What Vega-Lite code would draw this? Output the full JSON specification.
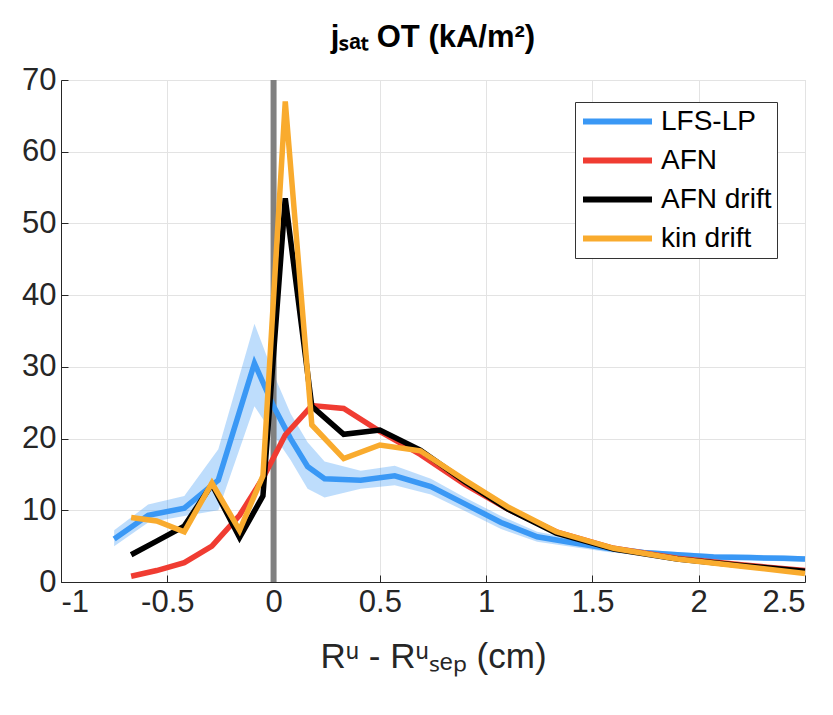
{
  "$schema": "https://vega.github.io/schema/vega-lite/v6.json",
  "width": 744,
  "height": 502,
  "autosize": {"type": "none"},
  "padding": {"left": 61, "top": 80, "right": 28, "bottom": 133},
  "background": "white",
  "title": {
    "text": "jₛₐₜ OT (kA/m²)",
    "font": "Liberation Sans",
    "fontSize": 31,
    "fontWeight": "bold",
    "color": "#000000",
    "anchor": "middle",
    "offset": 10
  },
  "config": {
    "view": {"stroke": "#d6d6d6", "strokeWidth": 1},
    "axis": {
      "labelFont": "Liberation Sans",
      "titleFont": "Liberation Sans",
      "labelColor": "#262626",
      "titleColor": "#262626",
      "domainColor": "#262626",
      "tickColor": "#262626",
      "gridColor": "#e3e3e3",
      "gridWidth": 1,
      "tickSize": -7,
      "labelFontSize": 31,
      "titleFontSize": 35,
      "titleFontWeight": "normal"
    },
    "legend": {
      "labelFont": "Liberation Sans"
    }
  },
  "datasets": {
    "lp": [
      {"x": -0.75, "y": 6.0, "lo": 5.0, "hi": 7.2},
      {"x": -0.59, "y": 9.3, "lo": 8.3, "hi": 10.8},
      {"x": -0.42, "y": 10.3, "lo": 9.2, "hi": 12.0},
      {"x": -0.26, "y": 14.2, "lo": 10.0, "hi": 18.5},
      {"x": -0.09, "y": 30.5, "lo": 24.5, "hi": 36.0},
      {"x": 0.0, "y": 24.5, "lo": 20.5, "hi": 29.0},
      {"x": 0.08, "y": 20.0, "lo": 17.0, "hi": 23.5},
      {"x": 0.16, "y": 16.1, "lo": 13.0, "hi": 19.5},
      {"x": 0.24, "y": 14.4, "lo": 11.8, "hi": 16.8},
      {"x": 0.41, "y": 14.2, "lo": 13.0, "hi": 15.5},
      {"x": 0.57, "y": 14.8, "lo": 13.5, "hi": 16.2},
      {"x": 0.74, "y": 13.3, "lo": 12.2, "hi": 14.4},
      {"x": 0.9, "y": 10.9, "lo": 9.9, "hi": 11.8},
      {"x": 1.07, "y": 8.3, "lo": 7.4, "hi": 9.2},
      {"x": 1.24, "y": 6.3, "lo": 5.6, "hi": 7.0},
      {"x": 1.4, "y": 5.5, "lo": 4.9, "hi": 6.1},
      {"x": 1.57, "y": 4.7, "lo": 4.2, "hi": 5.2},
      {"x": 1.74, "y": 4.1, "lo": 3.7, "hi": 4.5},
      {"x": 1.9, "y": 3.8, "lo": 3.4, "hi": 4.2},
      {"x": 2.07, "y": 3.5, "lo": 3.1, "hi": 3.9},
      {"x": 2.24, "y": 3.4, "lo": 3.0, "hi": 3.8},
      {"x": 2.4, "y": 3.3, "lo": 2.9, "hi": 3.7},
      {"x": 2.5, "y": 3.2, "lo": 2.8, "hi": 3.6}
    ],
    "lines": [
      {"s": "LFS-LP", "x": -0.75, "y": 6.0},
      {"s": "LFS-LP", "x": -0.59, "y": 9.3},
      {"s": "LFS-LP", "x": -0.42, "y": 10.3},
      {"s": "LFS-LP", "x": -0.26, "y": 14.2},
      {"s": "LFS-LP", "x": -0.09, "y": 30.5},
      {"s": "LFS-LP", "x": 0.0, "y": 24.5},
      {"s": "LFS-LP", "x": 0.08, "y": 20.0},
      {"s": "LFS-LP", "x": 0.16, "y": 16.1},
      {"s": "LFS-LP", "x": 0.24, "y": 14.4},
      {"s": "LFS-LP", "x": 0.41, "y": 14.2},
      {"s": "LFS-LP", "x": 0.57, "y": 14.8},
      {"s": "LFS-LP", "x": 0.74, "y": 13.3},
      {"s": "LFS-LP", "x": 0.9, "y": 10.9},
      {"s": "LFS-LP", "x": 1.07, "y": 8.3},
      {"s": "LFS-LP", "x": 1.24, "y": 6.3},
      {"s": "LFS-LP", "x": 1.4, "y": 5.5},
      {"s": "LFS-LP", "x": 1.57, "y": 4.7},
      {"s": "LFS-LP", "x": 1.74, "y": 4.1},
      {"s": "LFS-LP", "x": 1.9, "y": 3.8},
      {"s": "LFS-LP", "x": 2.07, "y": 3.5},
      {"s": "LFS-LP", "x": 2.24, "y": 3.4},
      {"s": "LFS-LP", "x": 2.4, "y": 3.3},
      {"s": "LFS-LP", "x": 2.5, "y": 3.2},

      {"s": "AFN", "x": -0.67, "y": 0.8},
      {"s": "AFN", "x": -0.55, "y": 1.6},
      {"s": "AFN", "x": -0.42, "y": 2.7},
      {"s": "AFN", "x": -0.29, "y": 5.0},
      {"s": "AFN", "x": -0.16, "y": 9.3},
      {"s": "AFN", "x": -0.05, "y": 14.5},
      {"s": "AFN", "x": 0.055, "y": 20.5},
      {"s": "AFN", "x": 0.18, "y": 24.6},
      {"s": "AFN", "x": 0.33, "y": 24.2},
      {"s": "AFN", "x": 0.5, "y": 21.0},
      {"s": "AFN", "x": 0.69, "y": 17.8},
      {"s": "AFN", "x": 0.9, "y": 13.6},
      {"s": "AFN", "x": 1.1, "y": 10.2},
      {"s": "AFN", "x": 1.33, "y": 7.0},
      {"s": "AFN", "x": 1.6, "y": 4.7},
      {"s": "AFN", "x": 1.9, "y": 3.3},
      {"s": "AFN", "x": 2.2, "y": 2.4},
      {"s": "AFN", "x": 2.5, "y": 1.6},

      {"s": "AFN drift", "x": -0.67, "y": 3.8},
      {"s": "AFN drift", "x": -0.55, "y": 5.7},
      {"s": "AFN drift", "x": -0.42, "y": 7.8},
      {"s": "AFN drift", "x": -0.29, "y": 13.6},
      {"s": "AFN drift", "x": -0.16, "y": 6.2},
      {"s": "AFN drift", "x": -0.05, "y": 12.0},
      {"s": "AFN drift", "x": 0.055, "y": 53.5},
      {"s": "AFN drift", "x": 0.18, "y": 24.5},
      {"s": "AFN drift", "x": 0.33, "y": 20.6},
      {"s": "AFN drift", "x": 0.5, "y": 21.2},
      {"s": "AFN drift", "x": 0.69, "y": 18.4},
      {"s": "AFN drift", "x": 0.9, "y": 14.0},
      {"s": "AFN drift", "x": 1.1, "y": 10.2},
      {"s": "AFN drift", "x": 1.33, "y": 6.8},
      {"s": "AFN drift", "x": 1.6, "y": 4.6},
      {"s": "AFN drift", "x": 1.9, "y": 3.2},
      {"s": "AFN drift", "x": 2.2, "y": 2.3},
      {"s": "AFN drift", "x": 2.5, "y": 1.5},

      {"s": "kin drift", "x": -0.67, "y": 9.0},
      {"s": "kin drift", "x": -0.55, "y": 8.5},
      {"s": "kin drift", "x": -0.42, "y": 7.0},
      {"s": "kin drift", "x": -0.29, "y": 13.8},
      {"s": "kin drift", "x": -0.16, "y": 7.2},
      {"s": "kin drift", "x": -0.05, "y": 14.8},
      {"s": "kin drift", "x": 0.055, "y": 67.0},
      {"s": "kin drift", "x": 0.18, "y": 21.9},
      {"s": "kin drift", "x": 0.33, "y": 17.2},
      {"s": "kin drift", "x": 0.5, "y": 19.1},
      {"s": "kin drift", "x": 0.69, "y": 18.3},
      {"s": "kin drift", "x": 0.9, "y": 14.2},
      {"s": "kin drift", "x": 1.1, "y": 10.5},
      {"s": "kin drift", "x": 1.33, "y": 7.0},
      {"s": "kin drift", "x": 1.6, "y": 4.7},
      {"s": "kin drift", "x": 1.9, "y": 3.2},
      {"s": "kin drift", "x": 2.2, "y": 2.2},
      {"s": "kin drift", "x": 2.5, "y": 1.2}
    ],
    "sep": [{"x": 0}]
  },
  "layer": [
    {
      "data": {"name": "lp"},
      "mark": {"type": "area", "color": "#3a98f5", "opacity": 0.33},
      "encoding": {
        "x": {
          "field": "x", "type": "quantitative",
          "scale": {"domain": [-1, 2.5], "nice": false, "zero": false},
          "axis": {
            "values": [-1, -0.5, 0, 0.5, 1, 1.5, 2, 2.5],
            "labelExpr": "toString(datum.value)",
            "title": "Rᵘ - Rᵘₛₑₚ (cm)",
            "labelPadding": 12,
            "titlePadding": 22,
            "grid": true
          }
        },
        "y": {
          "field": "lo", "type": "quantitative",
          "scale": {"domain": [0, 70], "nice": false},
          "axis": {
            "values": [0, 10, 20, 30, 40, 50, 60, 70],
            "title": null,
            "labelPadding": 12,
            "grid": true
          }
        },
        "y2": {"field": "hi"}
      }
    },
    {
      "data": {"name": "sep"},
      "mark": {"type": "rule", "color": "#808080", "strokeWidth": 6},
      "encoding": {"x": {"field": "x", "type": "quantitative"}}
    },
    {
      "data": {"name": "lines"},
      "mark": {"type": "line", "strokeWidth": 5.5, "strokeJoin": "miter", "strokeCap": "butt"},
      "encoding": {
        "x": {"field": "x", "type": "quantitative"},
        "y": {"field": "y", "type": "quantitative"},
        "order": {"field": "x", "type": "quantitative"},
        "color": {
          "field": "s", "type": "nominal",
          "scale": {
            "domain": ["LFS-LP", "AFN", "AFN drift", "kin drift"],
            "range": ["#3a98f5", "#f03c32", "#000000", "#f9ab2e"]
          },
          "legend": {
            "title": null,
            "orient": "none",
            "legendX": 514,
            "legendY": 22,
            "symbolType": "M-1,0H5",
            "symbolSize": 529,
            "symbolStrokeWidth": 6,
            "labelFontSize": 28,
            "labelColor": "#000000",
            "labelOffset": 52,
            "rowPadding": 10,
            "padding": 5,
            "strokeColor": "#333333",
            "fillColor": "white"
          }
        }
      }
    }
  ]
}
